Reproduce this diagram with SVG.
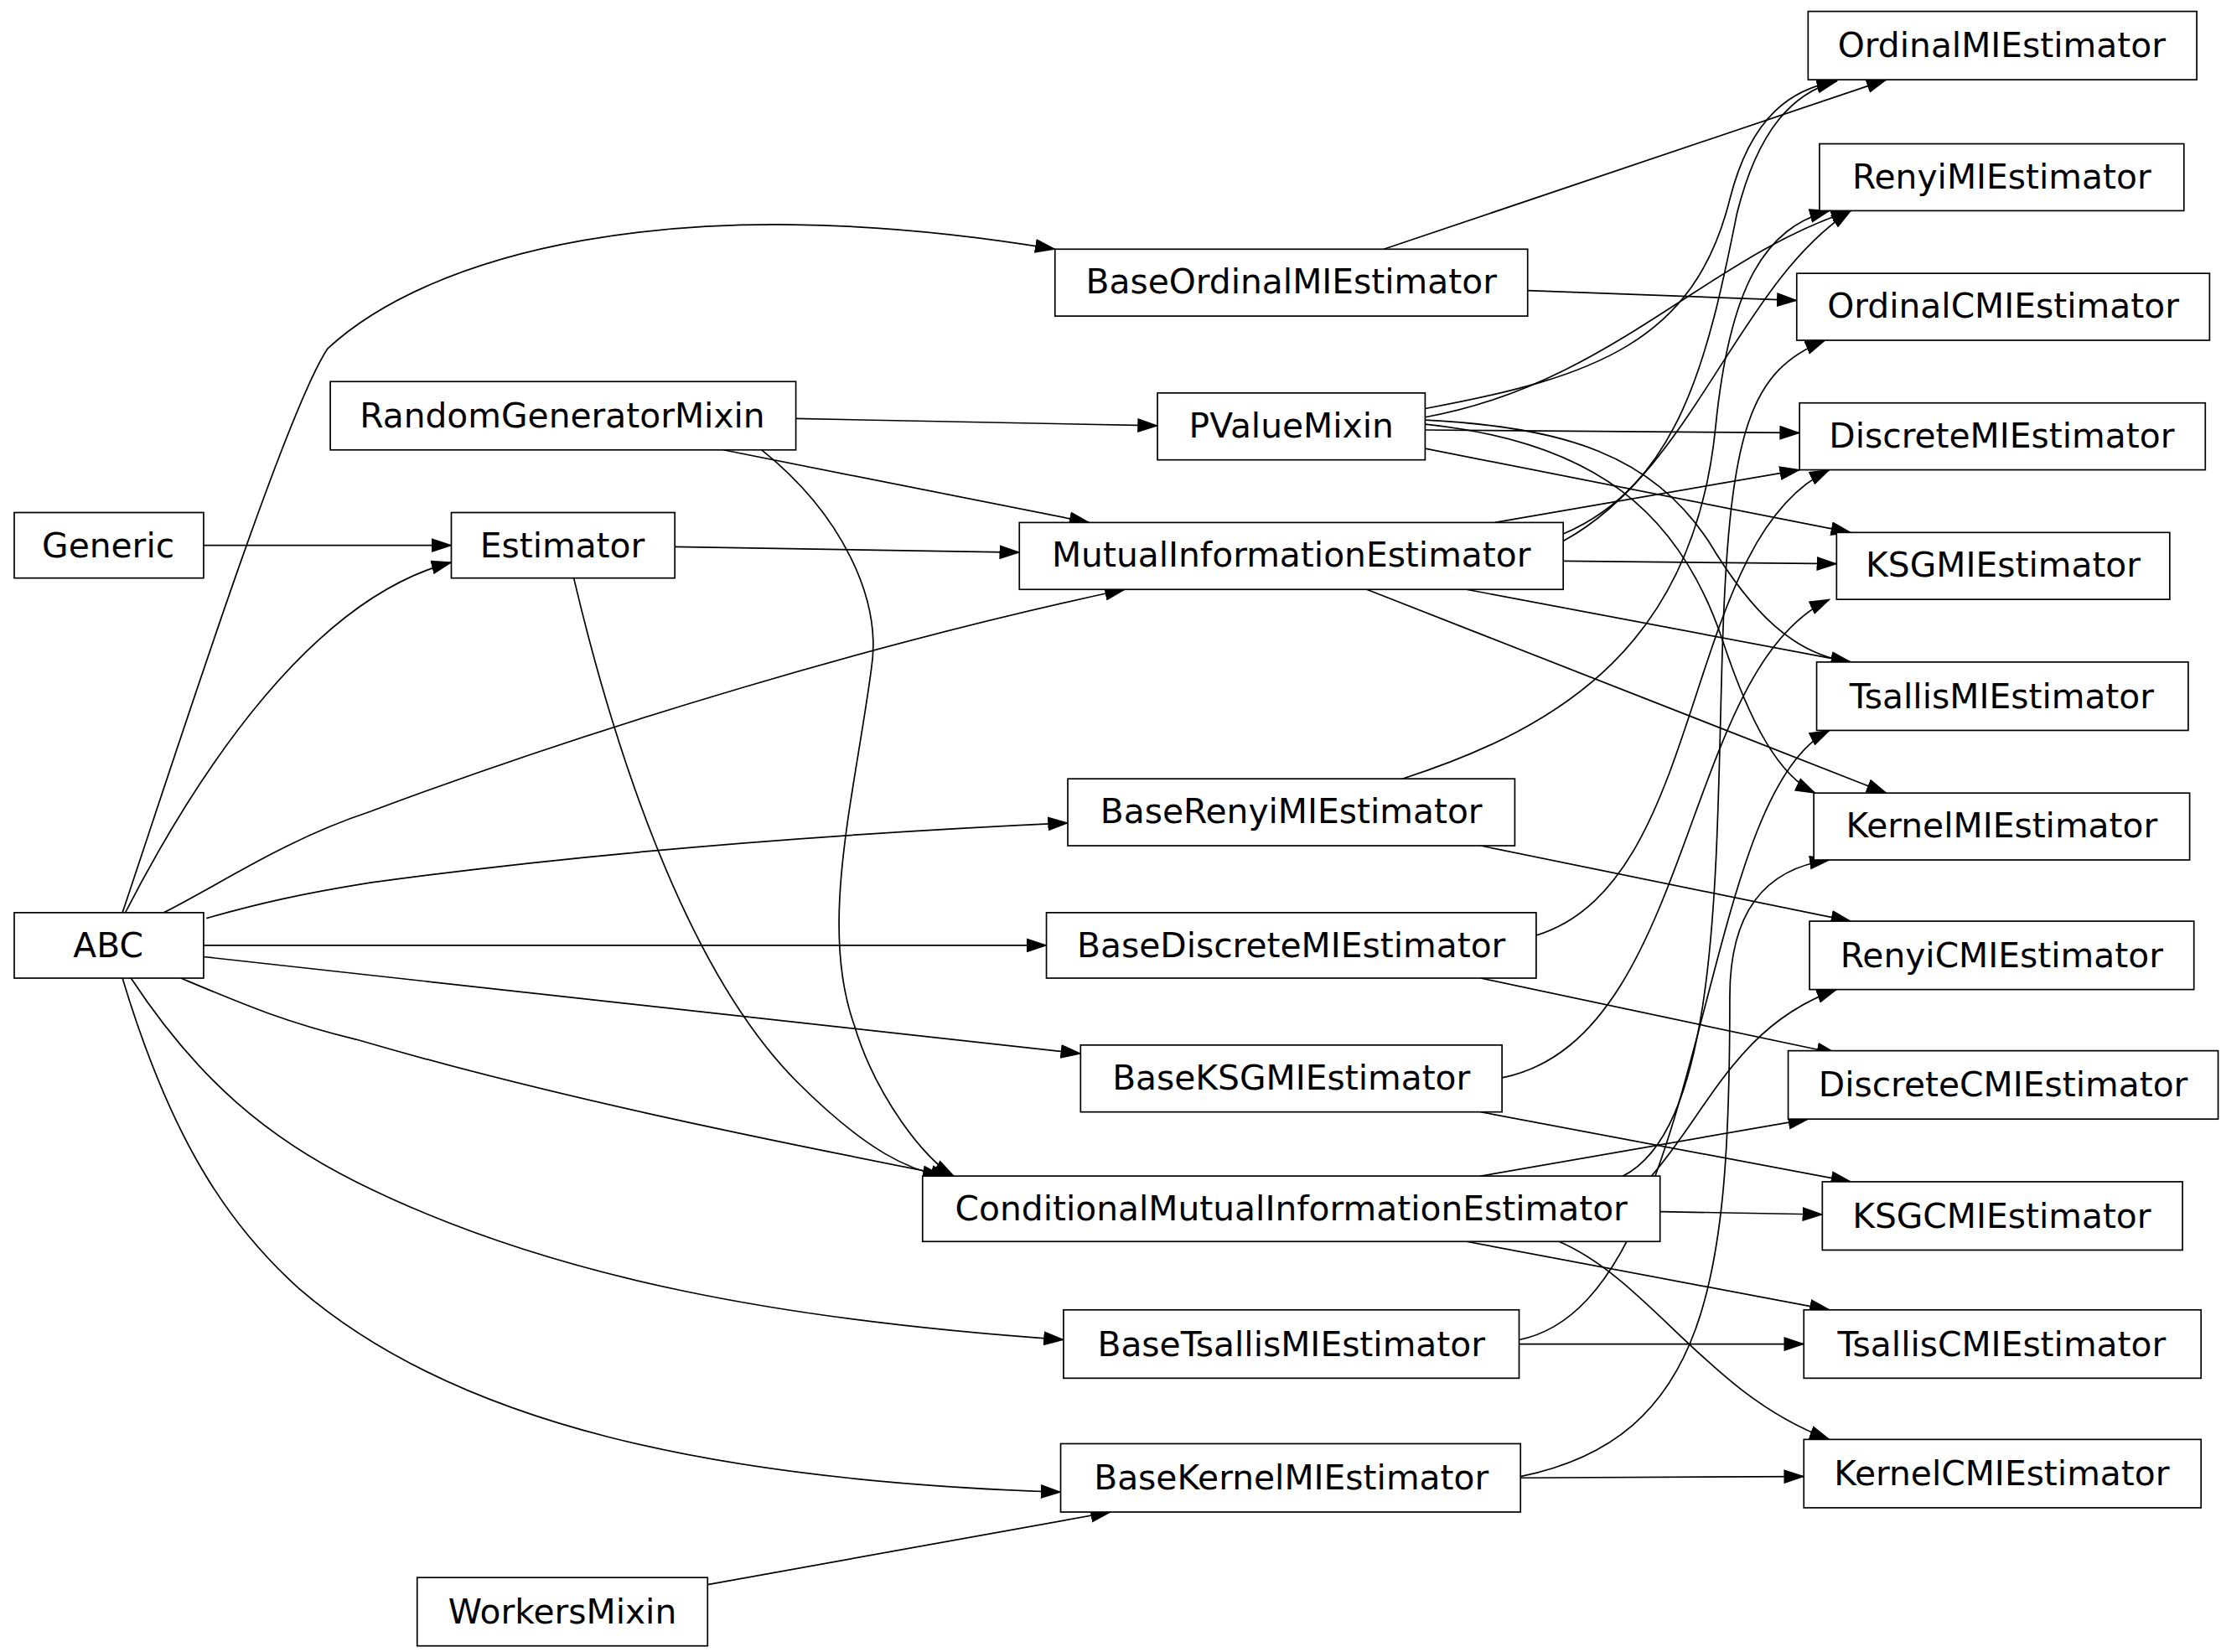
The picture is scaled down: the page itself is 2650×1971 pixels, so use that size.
<svg xmlns="http://www.w3.org/2000/svg" width="2650" height="1971" viewBox="0 0 2650 1971">
<style>
.n rect{fill:#fff;stroke:#000;stroke-width:1}
.n text{font-family:"DejaVu Sans",sans-serif;font-size:24px;text-anchor:middle;dominant-baseline:central}
#edges path{fill:none;stroke:#000;stroke-width:1;marker-end:url(#a)}
</style>
<defs><marker id="a" markerWidth="15" markerHeight="10" refX="14" refY="5" orient="auto" markerUnits="userSpaceOnUse"><path d="M0,0L15,5L0,10z" fill="#000"/></marker></defs>
<rect width="2650" height="1971" fill="#fff"/>
<g transform="scale(1.6987)">
<g id="edges">
<path d="M143,383L317,383"/>
<path d="M88,641C140,540 220,420 317,395"/>
<path d="M86,641C120,540 200,290 230,245C300,180 470,130 741,175"/>
<path d="M115,641C160,618 200,590 260,570C420,510 620,450 790,414"/>
<path d="M145,645C180,635 210,628 260,620C420,598 600,585 750,578"/>
<path d="M143,664L735,664"/>
<path d="M143,672L759,740"/>
<path d="M127,687C170,705 200,718 250,730C380,768 520,797 668,826"/>
<path d="M92,687C140,760 190,800 250,830C390,900 560,928 747,941"/>
<path d="M86,687C120,800 160,860 210,905C320,1000 500,1040 745,1048"/>
<path d="M497,1113L780,1062"/>
<path d="M559,294L813,299"/>
<path d="M508,316L765,367"/>
<path d="M535,316C590,360 620,420 612,470C600,560 575,650 600,720C615,770 650,815 670,826"/>
<path d="M474,384L716,388"/>
<path d="M403,406C430,520 480,680 560,760C610,810 640,822 662,826"/>
<path d="M972,175L1325,56"/>
<path d="M1073,204L1262,211"/>
<path d="M1001,287C1120,265 1190,240 1215,140C1230,80 1260,62 1290,57"/>
<path d="M1001,293C1130,270 1200,180 1300,148"/>
<path d="M1001,302L1264,304"/>
<path d="M1001,315L1300,374"/>
<path d="M1001,295C1100,300 1160,320 1200,380C1230,430 1260,460 1300,465"/>
<path d="M1001,298C1120,310 1180,360 1210,450C1230,510 1250,545 1275,557"/>
<path d="M1098,375C1180,340 1200,250 1220,150C1235,90 1260,65 1290,57"/>
<path d="M1098,380C1190,330 1220,200 1300,148"/>
<path d="M1050,367L1264,330"/>
<path d="M1098,394L1290,396"/>
<path d="M1030,414L1300,465"/>
<path d="M960,414L1325,557"/>
<path d="M985,547C1100,510 1190,450 1205,300C1215,200 1240,160 1285,148"/>
<path d="M1040,594L1300,647"/>
<path d="M1079,657C1200,620 1180,380 1285,330"/>
<path d="M1040,687L1290,740"/>
<path d="M1055,757C1190,730 1180,470 1285,421"/>
<path d="M1040,781L1300,830"/>
<path d="M1067,941C1200,915 1190,560 1285,513"/>
<path d="M1067,944L1267,944"/>
<path d="M1068,1037C1200,1010 1215,900 1215,700C1215,640 1240,610 1285,604"/>
<path d="M1068,1038L1267,1037"/>
<path d="M1140,826C1210,790 1205,600 1210,450C1215,300 1230,260 1282,239"/>
<path d="M1160,826C1200,780 1220,720 1290,695"/>
<path d="M1040,826L1270,786"/>
<path d="M1166,851L1280,853"/>
<path d="M1030,872L1285,920"/>
<path d="M1095,872C1160,900 1200,980 1285,1011"/>
</g>
<g id="OrdinalMIEstimator" class="n"><rect x="1270" y="8" width="273" height="48"/><text x="1406" y="32">OrdinalMIEstimator</text></g>
<g id="RenyiMIEstimator" class="n"><rect x="1278" y="101" width="256" height="47"/><text x="1406" y="124">RenyiMIEstimator</text></g>
<g id="OrdinalCMIEstimator" class="n"><rect x="1262" y="192" width="290" height="47"/><text x="1407" y="215">OrdinalCMIEstimator</text></g>
<g id="DiscreteMIEstimator" class="n"><rect x="1264" y="283" width="285" height="47"/><text x="1406" y="306">DiscreteMIEstimator</text></g>
<g id="KSGMIEstimator" class="n"><rect x="1290" y="374" width="234" height="47"/><text x="1407" y="397">KSGMIEstimator</text></g>
<g id="TsallisMIEstimator" class="n"><rect x="1276" y="465" width="261" height="48"/><text x="1406" y="489">TsallisMIEstimator</text></g>
<g id="KernelMIEstimator" class="n"><rect x="1274" y="557" width="264" height="47"/><text x="1406" y="580">KernelMIEstimator</text></g>
<g id="RenyiCMIEstimator" class="n"><rect x="1271" y="647" width="270" height="48"/><text x="1406" y="671">RenyiCMIEstimator</text></g>
<g id="DiscreteCMIEstimator" class="n"><rect x="1256" y="738" width="302" height="48"/><text x="1407" y="762">DiscreteCMIEstimator</text></g>
<g id="KSGCMIEstimator" class="n"><rect x="1280" y="830" width="253" height="48"/><text x="1406" y="854">KSGCMIEstimator</text></g>
<g id="TsallisCMIEstimator" class="n"><rect x="1267" y="920" width="279" height="48"/><text x="1406" y="944">TsallisCMIEstimator</text></g>
<g id="KernelCMIEstimator" class="n"><rect x="1267" y="1011" width="279" height="48"/><text x="1406" y="1035">KernelCMIEstimator</text></g>
<g id="BaseOrdinalMIEstimator" class="n"><rect x="741" y="175" width="332" height="47"/><text x="907" y="198">BaseOrdinalMIEstimator</text></g>
<g id="RandomGeneratorMixin" class="n"><rect x="232" y="268" width="327" height="48"/><text x="395" y="292">RandomGeneratorMixin</text></g>
<g id="PValueMixin" class="n"><rect x="813" y="276" width="188" height="47"/><text x="907" y="299">PValueMixin</text></g>
<g id="Generic" class="n"><rect x="10" y="360" width="133" height="46"/><text x="76" y="383">Generic</text></g>
<g id="Estimator" class="n"><rect x="317" y="360" width="157" height="46"/><text x="395" y="383">Estimator</text></g>
<g id="MutualInformationEstimator" class="n"><rect x="716" y="367" width="382" height="47"/><text x="907" y="390">MutualInformationEstimator</text></g>
<g id="BaseRenyiMIEstimator" class="n"><rect x="750" y="547" width="314" height="47"/><text x="907" y="570">BaseRenyiMIEstimator</text></g>
<g id="ABC" class="n"><rect x="10" y="641" width="133" height="46"/><text x="76" y="664">ABC</text></g>
<g id="BaseDiscreteMIEstimator" class="n"><rect x="735" y="641" width="344" height="46"/><text x="907" y="664">BaseDiscreteMIEstimator</text></g>
<g id="BaseKSGMIEstimator" class="n"><rect x="759" y="734" width="296" height="47"/><text x="907" y="757">BaseKSGMIEstimator</text></g>
<g id="ConditionalMutualInformationEstimator" class="n"><rect x="648" y="826" width="518" height="46"/><text x="907" y="849">ConditionalMutualInformationEstimator</text></g>
<g id="BaseTsallisMIEstimator" class="n"><rect x="747" y="920" width="320" height="48"/><text x="907" y="944">BaseTsallisMIEstimator</text></g>
<g id="BaseKernelMIEstimator" class="n"><rect x="745" y="1014" width="323" height="48"/><text x="907" y="1038">BaseKernelMIEstimator</text></g>
<g id="WorkersMixin" class="n"><rect x="293" y="1108" width="204" height="48"/><text x="395" y="1132">WorkersMixin</text></g>
</g>
</svg>
